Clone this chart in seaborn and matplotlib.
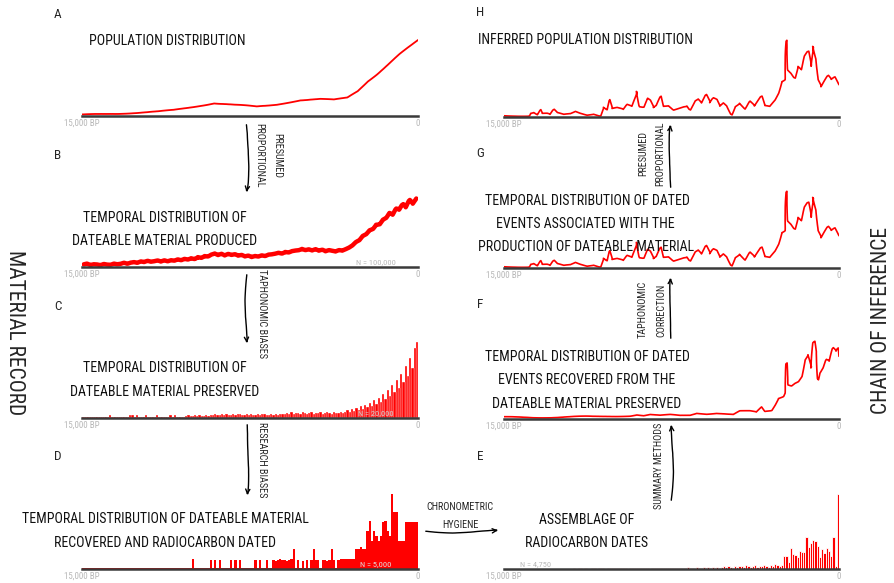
import numpy as np
import pandas as pd
import matplotlib
matplotlib.use("Agg")
import matplotlib.pyplot as plt
import seaborn as sns
from matplotlib import font_manager
from matplotlib.patches import FancyArrowPatch

# ---------------- data (heights in arbitrary units, years BP) ----------------
pop_years = [15000, 13800, 12700, 11600, 10900, 10000, 9100, 8200, 7200, 6300,
             5250, 4350, 3750, 3150, 2700, 2250, 1850, 1400, 800, 0]
pop_values = [1.0, 2.0, 3.3, 4.3, 5.7, 9.3, 13.0, 11.0, 9.3, 11.7,
              16.0, 16.7, 16.0, 18.3, 25.0, 35.0, 41.7, 50.0, 61.7, 76.0]

produced_values = [2.5, 3.4, 2.2, 3.1, 3.0, 2.4, 3.6, 3.0, 2.8, 3.9, 3.2, 3.5, 4.4, 3.3, 4.2,
                   4.6, 3.8, 5.1, 4.4, 5.6, 4.7, 5.2, 6.0, 5.1, 6.4, 5.6, 6.8,
                   6.5, 7.9, 7.2, 8.6, 8.0, 9.3, 8.5, 10.4, 9.6, 11.3, 10.8, 12.5,
                   13.4, 11.8, 12.9, 11.2, 12.6, 11.5,
                   12.2, 10.8, 11.6, 10.2, 11.1, 9.8, 10.9,
                   10.6, 11.9, 11.3, 12.8, 13.2, 13.9,
                   14.8, 14.0, 15.6, 15.1, 16.4, 16.9, 17.2,
                   18.3, 17.0, 17.6, 16.4, 17.5, 15.9, 16.8, 15.2, 16.3, 15.6,
                   15.0, 16.4, 16.0, 17.5,
                   19.2, 21.5, 25.0,
                   27.0, 31.4, 33.2,
                   37.2, 38.5, 42.8,
                   43.1, 47.6, 49.3,
                   54.0, 52.2, 58.1, 57.0,
                   62.4, 59.5, 66.8, 63.2, 68.5]

preserved_values = [1, 1, 1, 1, 1, 1, 1, 1, 1, 1, 1, 1, 3, 1, 1, 1, 1, 1, 1, 1, 1,
                    3, 3, 1, 3, 1, 1, 1, 3, 1, 1, 1, 1, 3, 1, 1, 1, 1, 1, 3, 1, 3, 1, 1, 1, 1,
                    2, 3, 2, 2, 3, 2, 3, 2, 2, 3, 2, 3,
                    3, 4, 3, 3, 4, 3, 4, 3, 3, 4, 3, 4, 4, 3, 3, 4, 3, 4, 3, 3, 4, 3, 4, 4,
                    3, 3, 4, 3, 4, 3, 4, 4,
                    4, 5, 4, 6, 4, 5, 5, 4, 6, 5, 4, 5, 6, 4, 5, 5, 6, 4, 5, 6, 5, 4, 6, 5,
                    5, 6, 5, 6,
                    8, 6, 9, 7, 10, 8, 12, 9, 13, 11, 15, 12, 18, 14, 20, 16, 24, 19, 28, 22,
                    33, 26, 38, 30, 44, 36, 52, 42, 60, 50, 70, 76]

dated_values = [1, 1, 1, 1, 1, 1, 1, 1, 1, 1, 1, 1, 1, 1, 1, 1, 1, 1, 1, 1,
                1, 1, 1, 1, 1, 1, 1, 1, 1, 1, 1, 1, 1, 1, 1, 1, 1, 1, 1, 1,
                1, 1, 1, 1, 1, 1, 1, 1, 1,
                10, 1, 1, 1, 1, 1, 1, 1,
                9, 1, 9, 1, 9, 1, 1, 1, 1, 9, 1, 9, 1, 9, 1, 1, 1, 1, 1, 1, 9, 1, 9, 1, 1, 9, 1, 1,
                9, 8, 9, 10, 9, 9, 8, 9, 10, 20,
                1, 9, 1, 8, 1, 9, 1, 9, 20, 9, 9, 1, 9, 9, 8, 9, 20, 9, 1, 9,
                10, 10, 10, 10, 10, 10, 10,
                20, 20, 22, 20, 20,
                38, 48, 28, 38, 33, 28, 33, 47, 48, 38, 33,
                75, 57, 57, 28, 28, 28, 47, 47, 47, 47, 47, 47]

assemblage_values = [0, 0, 0, 0, 0, 0, 0, 0, 0, 0, 0, 0, 0, 0, 0, 0, 0, 0, 0, 0,
                     0, 0, 0, 0, 0, 0, 0, 0, 0, 0, 0,
                     0.6, 0, 0.6, 0.6, 0, 0.6, 0, 0, 0.6, 0.6, 0, 0.6, 1, 0.6, 0, 1, 0.6, 1, 0.6, 1,
                     1, 0.6, 1, 1, 0, 1, 1, 1.5, 1, 0.6, 1, 1, 1.5, 1, 0, 1, 1.5, 1, 1, 1.5,
                     1, 1, 1.5, 1, 0.6, 1.5, 1.5, 1, 1.5, 1, 1.5, 2, 1, 1.5, 0, 2, 1.5, 1.5, 2, 1.5,
                     2, 1.5, 2, 1.5, 2, 1.5,
                     2, 3, 2, 3, 2, 1, 3, 2, 3, 3, 2, 4, 3, 2, 3, 4, 2, 3, 3, 4, 3, 2, 4, 3, 5, 4, 3, 4,
                     13, 13, 7, 21, 15, 14, 12, 18, 17, 17, 32, 22, 26, 29, 28, 23, 12, 20, 16, 21,
                     18, 13, 32, 3, 75]

event_years = [15000, 13880, 13810, 13660, 13510, 13360, 13290, 13070, 12920, 12770,
               12620, 12320, 12020, 11800, 11580, 11280, 10980, 10690, 10540, 10390,
               10270, 10160, 9940, 9640, 9490, 9270, 9050, 8930, 8750, 8570,
               8450, 8300, 8160, 7980, 7860, 7630, 7410, 7190, 6960, 6790,
               6670, 6440, 6300, 6150, 5950, 5770, 5630, 5480, 5330, 5180,
               5030, 4810, 4660, 4440, 4210, 3990, 3770, 3470, 3320, 3100,
               2870, 2720, 2570, 2430, 2350, 2280, 2130, 1980, 1830, 1680,
               1530, 1380, 1240, 1160, 1010, 940, 790, 640, 490, 340, 190, 0]
event_values = [1.3, 1.3, 4.0, 4.7, 2.3, 7.3, 3.3, 3.3, 2.3, 7.3,
                4.0, 2.3, 3.3, 5.7, 4.0, 2.3, 3.3, 1.3, 10.0, 7.3,
                17.3, 8.0, 9.0, 7.3, 12.3, 10.7, 25.7, 10.7, 10.0, 18.7,
                16.7, 9.0, 11.3, 20.7, 10.7, 11.3, 7.3, 9.0, 10.7, 11.3,
                7.3, 16.3, 18.0, 14.0, 22.3, 14.0, 18.7, 17.3, 10.7, 14.0,
                11.3, 2.3, 10.7, 14.0, 8.0, 15.7, 10.7, 20.7, 11.3, 10.7,
                17.3, 24.0, 35.7, 37.3, 76.7, 47.3, 44.0, 39.0, 50.7, 47.3,
                60.7, 65.7, 50.7, 70.7, 58.0, 37.3, 30.0, 35.7, 41.3, 37.3, 40.0, 32.3]

recovered_years = [15000, 12920, 11430, 10540, 9940, 9350, 9050, 8750, 8450, 8010,
                   7560, 7110, 6670, 6370, 5920, 5480, 5030, 4730, 4440, 3990,
                   3690, 3470, 3320, 3020, 2870, 2720, 2500, 2430, 2350, 2280,
                   2130, 1980, 1830, 1680, 1530, 1380, 1240, 1160, 1090, 1010,
                   940, 860, 710, 570, 420, 270, 120, 45, 0]
recovered_values = [1.7, 1.7, 2.3, 2.7, 3.0, 3.3, 4.3, 3.3, 4.3, 3.3,
                    4.0, 3.3, 3.7, 6.0, 5.3, 6.0, 5.0, 4.3, 7.7, 7.7,
                    6.7, 12.0, 7.7, 8.7, 14.3, 21.0, 22.7, 26.0, 56.0, 34.3,
                    33.3, 36.0, 37.7, 42.7, 59.3, 64.3, 51.0, 76.0, 77.7, 67.7,
                    39.3, 46.0, 51.0, 59.3, 57.7, 71.0, 67.7, 71.0, 62.7]

tick_labels = ["15,000 BP", "0"]

# ---------------- style ----------------
sns.set_style("white")
plt.xkcd(scale=0.6, length=90, randomness=2)
plt.rcParams['path.effects'] = []
_names = {f.name for f in font_manager.fontManager.ttflist}
FONT = 'DejaVu Sans'
for cand in ['Liberation Sans Narrow', 'Roboto Condensed', 'Roboto']:
    if cand in _names:
        FONT = cand
        break
plt.rcParams['font.family'] = [FONT, 'DejaVu Sans']

W, H = 895, 583
fig = plt.figure(figsize=(W / 100, H / 100), dpi=100)
RED = '#ff0000'
AXH = 85


def fx(x):
    return x / W


def fy(y):
    return 1 - y / H


def make_ax(x0, x1, base):
    return fig.add_axes([fx(x0), fy(base), (x1 - x0) / W, AXH / H])


def style(ax):
    ax.set_xlim(15000, 0)
    ax.set_ylim(0, AXH)
    for s in ['top', 'right', 'left']:
        ax.spines[s].set_visible(False)
    sp = ax.spines['bottom']
    sp.set_color('#3a3a3a')
    sp.set_linewidth(1.8)
    sp.set_sketch_params(None)
    ax.set_yticks([])
    ax.set_xticks([15000, 0])
    ax.set_xticklabels(tick_labels)
    ax.tick_params(axis='x', length=0, pad=2, labelsize=6.5, labelcolor='#b8b8b8')
    ax.set_xlabel('')
    ax.set_ylabel('')
    ax.patch.set_alpha(0)
    ax.grid(False)


bin_centers = 15000 - 100 * (np.arange(150) + 0.5)


def bars(ax, values, lw, ec):
    df = pd.DataFrame({"year": bin_centers, "height": values})
    sns.histplot(data=df, x="year", weights="height", binwidth=100, binrange=(0, 15000),
                 ax=ax, color=RED, alpha=1, edgecolor=ec, linewidth=lw, element='bars')
    for p in ax.patches:
        p.set_sketch_params(None)


LX0, LX1 = 82, 418
RX0, RX1 = 504, 839

# A
axA = make_ax(LX0, LX1, 116)
sns.lineplot(x=pop_years, y=pop_values, ax=axA, color=RED, linewidth=1.3)
style(axA)
# B
axB = make_ax(LX0, LX1, 267)
prod_years = 15000 - 150 * (np.arange(len(produced_values)) + 0.5)
sns.lineplot(x=prod_years, y=produced_values, ax=axB, color=RED, linewidth=3.2)
style(axB)
# C
axC = make_ax(LX0, LX1, 418)
bars(axC, preserved_values, 0.25, 'white')
style(axC)
# D
axD = make_ax(LX0, LX1, 569)
bars(axD, dated_values, 0.0, RED)
style(axD)
# H
axH = make_ax(RX0, RX1, 117)
sns.lineplot(x=event_years, y=event_values, ax=axH, color=RED, linewidth=1.2)
style(axH)
# G
axG = make_ax(RX0, RX1, 268)
sns.lineplot(x=event_years, y=event_values, ax=axG, color=RED, linewidth=1.2)
style(axG)
# F
axF = make_ax(RX0, RX1, 419)
sns.lineplot(x=recovered_years, y=recovered_values, ax=axF, color=RED, linewidth=1.2)
style(axF)
# E
axE = make_ax(RX0, RX1, 569)
bars(axE, assemblage_values, 0.6, 'white')
style(axE)

# sample-size notes
for ax, frac, txt, col in [(axB, 0.875, "N = 100,000", '#b8b8b8'), (axC, 0.875, "N = 20,000", '#d0d0d0'),
                           (axD, 0.875, "N = 5,000", '#e0e0e0'), (axE, 0.093, "N = 4,750", '#b8b8b8')]:
    ax.text(frac, 4.5 / AXH, txt, transform=ax.transAxes, fontsize=6, color=col,
            ha='center', va='center')

# panel letters
for s, x, y in [('A', 58, 14), ('B', 58, 155), ('C', 58, 307), ('D', 58, 456),
                ('H', 480, 13), ('G', 480, 154), ('F', 480, 305), ('E', 480, 456)]:
    fig.text(fx(x), fy(y), s, fontsize=9.5, ha='center', va='center')

# captions
captions = [("POPULATION DISTRIBUTION", 89, 41, 'left'),
            ("TEMPORAL DISTRIBUTION OF", 165, 218, 'center'),
            ("DATEABLE MATERIAL PRODUCED", 165, 241, 'center'),
            ("TEMPORAL DISTRIBUTION OF", 165, 368, 'center'),
            ("DATEABLE MATERIAL PRESERVED", 165, 392, 'center'),
            ("TEMPORAL DISTRIBUTION OF DATEABLE MATERIAL", 165, 519, 'center'),
            ("RECOVERED AND RADIOCARBON DATED", 165, 543, 'center'),
            ("INFERRED POPULATION DISTRIBUTION", 478, 40, 'left'),
            ("TEMPORAL DISTRIBUTION OF DATED", 587, 201, 'center'),
            ("EVENTS ASSOCIATED WITH THE", 585, 224, 'center'),
            ("PRODUCTION OF DATEABLE MATERIAL", 586, 247, 'center'),
            ("TEMPORAL DISTRIBUTION OF DATED", 587, 357, 'center'),
            ("EVENTS RECOVERED FROM THE", 587, 380, 'center'),
            ("DATEABLE MATERIAL PRESERVED", 587, 404, 'center'),
            ("ASSEMBLAGE OF", 587, 520, 'center'),
            ("RADIOCARBON DATES", 587, 543, 'center')]
for s, x, y, ha in captions:
    fig.text(fx(x), fy(y), s, fontsize=10, ha=ha, va='center', zorder=5, color='#111111')

# arrow labels
arrow_texts = [("PRESUMED", 277, 155, 270), ("PROPORTIONAL", 259, 155, 270),
               ("TAPHONOMIC BIASES", 262, 314, 270), ("RESEARCH BIASES", 262, 460, 270),
               ("PRESUMED", 643, 153, 90), ("PROPORTIONAL", 660, 154, 90),
               ("TAPHONOMIC", 643, 309, 90), ("CORRECTION", 661, 310, 90),
               ("SUMMARY METHODS", 659, 466, 90),
               ("CHRONOMETRIC", 460, 507, 0), ("HYGIENE", 460, 525, 0)]
for s, x, y, rot in arrow_texts:
    fig.text(fx(x), fy(y), s, fontsize=7.3, ha='center', va='center', rotation=rot)

# arrows
arrows = [((246, 122), (246, 195), -0.08), ((247, 272), (247, 346), 0.04),
          ((247, 422), (247, 498), -0.04),
          ((671, 190), (671, 122), -0.06), ((671, 341), (671, 275), -0.04),
          ((671, 503), (671, 422), 0.05),
          ((423, 531), (501, 530), 0.05)]
for (x0, y0), (x1, y1), rad in arrows:
    fig.add_artist(FancyArrowPatch((fx(x0), fy(y0)), (fx(x1), fy(y1)),
                                   transform=fig.transFigure, arrowstyle='->',
                                   connectionstyle=f'arc3,rad={rad}', lw=1.0,
                                   color='black', mutation_scale=8))

# side titles
fig.text(fx(14), fy(333), "MATERIAL RECORD", fontsize=15.5, rotation=270, ha='center', va='center')
fig.text(fx(882), fy(320), "CHAIN OF INFERENCE", fontsize=15.5, rotation=90, ha='center', va='center')

fig.savefig("out.png", dpi=100)
